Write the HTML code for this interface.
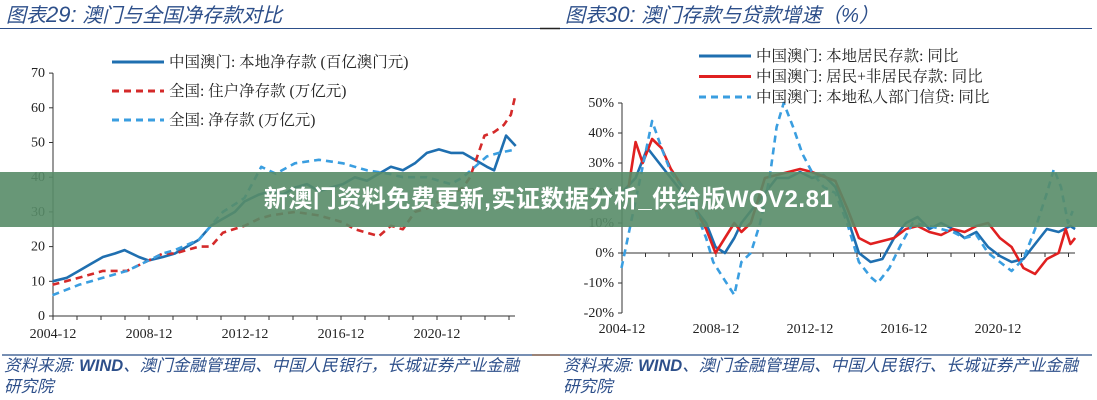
<!DOCTYPE html>
<html><head><meta charset="utf-8">
<style>
body{margin:0;width:1097px;height:400px;background:#fff;overflow:hidden;position:relative;font-family:"Liberation Serif","Noto Serif CJK SC",serif;}
svg{position:absolute;left:0;top:0}
.t{font-family:"Liberation Sans","Noto Sans CJK SC",sans-serif;font-style:italic;fill:#2d4f8a;font-size:20px}
.ft{font-family:"Liberation Sans","Noto Sans CJK SC",sans-serif;font-style:italic;fill:#2d4f8a;font-size:16.5px}
.tk{font-size:14px;fill:#222;font-family:"Liberation Serif","Noto Serif CJK SC",serif}
.lg{font-size:15.5px;fill:#222;font-family:"Liberation Serif","Noto Serif CJK SC",serif}
#banner{position:absolute;left:0;top:172px;width:1097px;height:55px;background:rgba(88,140,104,0.9);color:#fff;font:bold 24px "Liberation Sans","Noto Sans CJK SC",sans-serif;text-align:center;line-height:55px;letter-spacing:0.5px}
</style></head><body>
<svg id="svg" width="1097" height="400">
<text class="t" x="6" y="22">图表<tspan font-size="22">29:</tspan>  澳门与全国净存款对比</text>
<line x1="0" y1="28.5" x2="540" y2="28.5" stroke="#2d4f8a" stroke-width="1"/>
<line x1="540" y1="28.5" x2="560" y2="28.5" stroke="#222" stroke-width="1.5"/>
<text class="t" x="565" y="22">图表<tspan font-size="22">30:</tspan>  澳门存款与贷款增速（%）</text>
<line x1="560" y1="28.5" x2="1092" y2="28.5" stroke="#2d4f8a" stroke-width="1"/>
<line x1="2" y1="355" x2="532" y2="355" stroke="#4a6a9a" stroke-width="1.5"/>
<line x1="532" y1="355" x2="560" y2="355" stroke="#7a5a4a" stroke-width="1.5"/>
<line x1="560" y1="355" x2="1092" y2="355" stroke="#4a6a9a" stroke-width="1.5"/>
<text class="ft" x="4" y="371">资料来源: <tspan font-weight="bold">WIND</tspan>、澳门金融管理局、中国人民银行，长城证券产业金融</text>
<text class="ft" x="4" y="392">研究院</text>
<text class="ft" x="563" y="371">资料来源: <tspan font-weight="bold">WIND</tspan>、澳门金融管理局、中国人民银行、长城证券产业金融</text>
<text class="ft" x="563" y="392">研究院</text>
<g id="L"></g><g id="R"></g>
</svg>
<div id="banner">新澳门资料免费更新,实证数据分析_供给版WQV2.81</div>
<script>
// ---- Left chart data ----
const lTicksY=[0,10,20,30,40,50,60,70];
const xTickLabels=["2004-12","2008-12","2012-12","2016-12","2020-12"];
const xTickYears=[2004.92,2008.92,2012.92,2016.92,2020.92];
const macauT=[2004.9,2005.5,2006,2006.5,2007,2007.5,2007.9,2008.5,2008.9,2009.5,2010,2010.5,2011,2011.5,2012,2012.5,2012.9,2013.5,2014,2014.5,2015,2015.5,2016,2016.5,2017,2017.5,2018,2018.5,2019,2019.5,2020,2020.5,2021,2021.5,2022,2022.5,2023,2023.3,2023.8,2024.2];
const macauV=[10,11,13,15,17,18,19,17,16,17,18,20,22,26,28,30,33,35,36,35,37,38,36,37,38,40,39,41,43,42,44,47,48,47,47,45,43,42,52,49];
const hhT=[2004.9,2006,2007,2008,2008.9,2009.5,2010,2011,2011.5,2012,2012.9,2013.5,2014,2015,2016,2017,2017.5,2018,2018.5,2019,2019.5,2020,2020.5,2021,2021.5,2022,2022.3,2022.9,2023.3,2023.7,2024,2024.2];
const hhV=[9,11,13,13,16,18,18,20,20,24,26,28,29,30,29,27,25,24,23,26,25,30,31,33,35,37,40,52,53,55,58,64];
const natT=[2004.9,2006,2007,2008,2008.9,2009.5,2010,2011,2011.5,2012,2012.9,2013.6,2014.2,2015,2016,2017,2018,2018.9,2019.5,2020.5,2021.5,2022,2022.5,2023,2023.5,2024.2];
const natV=[6,9,11,13,16,18,19,22,26,30,34,43,41,44,45,44,42,41,40,40,38,40,43,46,47,48];
// ---- Right chart data ----
const rTicksY=[-20,-10,0,10,20,30,40,50];
const resT=[2004.9,2005.5,2006,2006.5,2007,2007.5,2008,2008.5,2008.9,2009.3,2009.7,2010,2010.5,2011,2011.5,2012,2012.5,2013,2013.5,2014,2014.5,2015,2015.5,2016,2016.5,2017,2017.5,2018,2018.5,2019,2019.5,2020,2020.5,2021,2021.5,2022,2022.5,2023,2023.5,2024,2024.2];
const resV=[20,25,35,30,25,20,15,10,2,0,5,10,15,20,25,25,27,25,26,22,12,0,-3,-2,5,10,12,8,10,8,5,7,2,-1,-3,-2,3,8,7,9,8];
const totT=[2005.2,2005.5,2005.8,2006.2,2006.6,2007,2007.5,2008,2008.5,2008.9,2009.3,2009.7,2010,2010.4,2011,2012,2012.5,2013,2014,2014.5,2015,2015.5,2016,2016.5,2017,2017.5,2018,2018.5,2019,2019.5,2020,2020.5,2021,2021.5,2022,2022.5,2023,2023.5,2023.8,2024,2024.2];
const totV=[22,37,30,38,35,28,22,15,8,0,5,10,7,10,25,27,28,27,24,15,5,3,4,5,8,9,7,6,8,7,9,10,5,2,-5,-7,-2,0,8,3,5];
const credT=[2004.9,2005.3,2005.7,2006.2,2006.6,2007,2007.5,2008,2008.5,2008.8,2009.2,2009.7,2010,2010.4,2010.8,2011.2,2011.5,2011.8,2012.2,2012.6,2013,2013.5,2014,2014.5,2015,2015.5,2015.8,2016.3,2016.8,2017.3,2018,2018.5,2019,2019.5,2020,2020.5,2021,2021.5,2022,2022.5,2023,2023.3,2023.6,2023.9,2024.1];
const credV=[-5,10,25,44,35,27,22,15,5,-3,-8,-14,-3,0,10,25,42,50,42,33,27,22,20,10,-3,-8,-10,-5,3,10,9,8,7,5,6,0,-3,-6,-2,8,20,28,22,10,14];

const NS="http://www.w3.org/2000/svg";
function el(tag,attrs,parent,txt){const e=document.createElementNS(NS,tag);for(const k in attrs)e.setAttribute(k,attrs[k]);if(txt!==undefined)e.textContent=txt;parent.appendChild(e);return e;}
function makeChart(g,cfg){
  const x=t=>cfg.x0+(t-2004.92)*cfg.pxYear;
  const y=v=>cfg.yZero-(v-cfg.yMinV)*cfg.pxUnit;
  const ax=el('line',{x1:cfg.x0,y1:y(cfg.yTicks[0]),x2:cfg.x0,y2:y(cfg.yTicks[cfg.yTicks.length-1]),stroke:'#333','stroke-width':1},g);
  
  
  cfg.yTicks.forEach(v=>{
    el('line',{x1:cfg.x0-4,y1:y(v),x2:cfg.x0,y2:y(v),stroke:'#333'},g);
    const t=el('text',{x:cfg.x0-8,y:y(v)+4,'text-anchor':'end',class:'tk'},g,cfg.fmt(v));
    
    
  });
  const xa=el('line',{x1:cfg.x0,y1:y(cfg.xAxisV),x2:cfg.x1,y2:y(cfg.xAxisV),stroke:'#333','stroke-width':1},g);
  
  
  for(let yr=2004.92;yr<2024.5;yr+=1)el('line',{x1:x(yr),y1:y(cfg.xAxisV),x2:x(yr),y2:y(cfg.xAxisV)+4,stroke:'#333'},g);
  xTickYears.forEach((yr,i)=>{
    const t=el('text',{x:x(yr),y:cfg.xLabY,'text-anchor':'middle',class:'tk'},g,xTickLabels[i]);
    
    
  });
  cfg.series.forEach(s=>{
    const p=el('polyline',{points:s.t.map((t,i)=>x(t).toFixed(1)+','+y(s.v[i]).toFixed(1)).join(' '),fill:'none',stroke:s.c,'stroke-width':2.6,'stroke-dasharray':s.d||'none','stroke-linejoin':'round'},g);
    
    
  });
  cfg.series.forEach((s,i)=>{
    const ly=cfg.legY+i*cfg.legGap;
    el('line',{x1:cfg.legX,y1:ly,x2:cfg.legX+52,y2:ly,stroke:s.c,'stroke-width':3,'stroke-dasharray':s.d||'none'},g);
    const t=el('text',{x:cfg.legX+57,y:ly+5,class:'lg'},g,s.label);
    
    
  });
}
makeChart(document.getElementById('L'),{x0:53,x1:515,pxYear:24,yZero:316,yMinV:0,pxUnit:3.47,yTicks:lTicksY,fmt:v=>v,xAxisV:0,xLabY:338,legX:112,legY:62,legGap:29,
 series:[{name:'line-macau-net-deposits',t:macauT,v:macauV,c:'#1f6fb0',label:'中国澳门: 本地净存款 (百亿澳门元)'},
 {name:'line-national-household-deposits',t:hhT,v:hhV,c:'#d42a2a',d:'7,5',label:'全国: 住户净存款 (万亿元)'},
 {name:'line-national-net-deposits',t:natT,v:natV,c:'#3a9ee0',d:'7,5',label:'全国: 净存款 (万亿元)'}]});
makeChart(document.getElementById('R'),{x0:622,x1:1075,pxYear:23.5,yZero:313,yMinV:-20,pxUnit:3.0,yTicks:rTicksY,fmt:v=>v+'%',xAxisV:0,xLabY:333,legX:699,legY:56,legGap:20.5,
 series:[{name:'line-resident-deposits-yoy',t:resT,v:resV,c:'#1f6fb0',label:'中国澳门: 本地居民存款: 同比'},
 {name:'line-total-deposits-yoy',t:totT,v:totV,c:'#e02020',label:'中国澳门: 居民+非居民存款: 同比'},
 {name:'line-private-credit-yoy',t:credT,v:credV,c:'#3a9ee0',d:'7,5',label:'中国澳门: 本地私人部门信贷: 同比'}]});
</script>
</body></html>
